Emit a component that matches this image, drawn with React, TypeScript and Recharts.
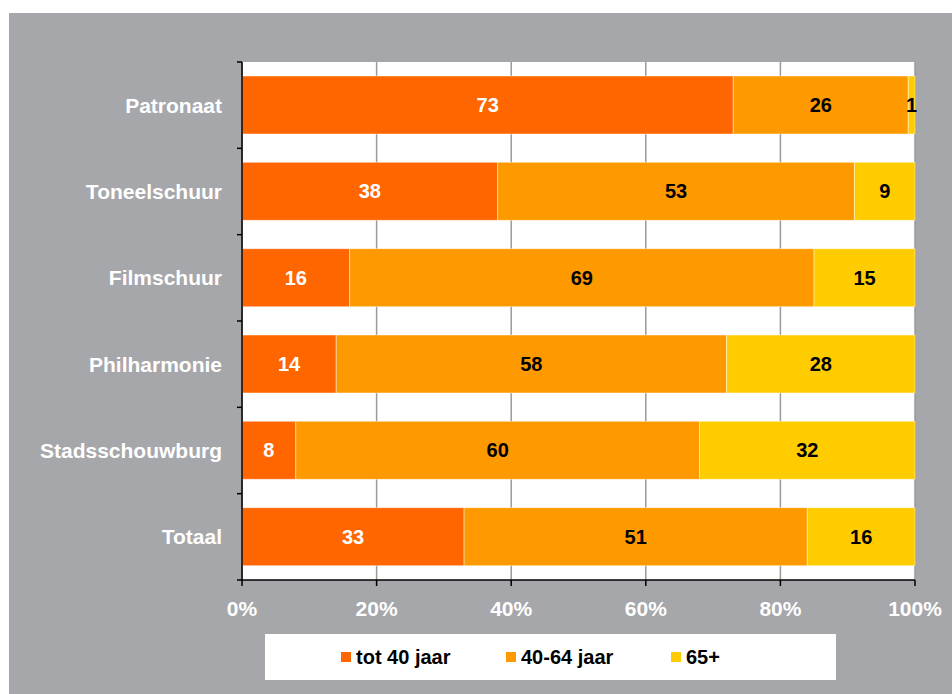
import {
  BarChart,
  Bar,
  XAxis,
  YAxis,
  CartesianGrid,
  Legend,
  LabelList,
} from "recharts";

// ---------------------------------------------------------------------------
// Data
// ---------------------------------------------------------------------------

const venues = [
  "Patronaat",
  "Toneelschuur",
  "Filmschuur",
  "Philharmonie",
  "Stadsschouwburg",
  "Totaal",
];

const under40 = [73, 38, 16, 14, 8, 33];
const age40to64 = [26, 53, 69, 58, 60, 51];
const over65 = [1, 9, 15, 28, 32, 16];

const percentTicks = [0, 20, 40, 60, 80, 100];

const seriesNames = ["tot 40 jaar", "40-64 jaar", "65+"];
const seriesColors = ["#ff6600", "#ff9900", "#ffcc00"];

const data = venues.map((name, i) => ({
  name,
  young: under40[i],
  middle: age40to64[i],
  old: over65[i],
}));

// ---------------------------------------------------------------------------
// Styling helpers
// ---------------------------------------------------------------------------

const FONT = "'Liberation Sans', Arial, sans-serif";
const PANEL_BG = "#a6a7ab";
const AXIS_X = 233; // right edge of the category axis inside the chart
const TOP = 49;
const PLOT_H = 518;
const BAND = PLOT_H / venues.length;

function CategoryTick({
  y,
  payload,
  index,
}: {
  x?: number;
  y?: number;
  payload?: { value: string };
  index?: number;
}) {
  const cy = y ?? 0;
  return (
    <g>
      <line
        x1={AXIS_X - 5}
        x2={AXIS_X}
        y1={cy - BAND / 2}
        y2={cy - BAND / 2}
        stroke="#000"
        strokeWidth={1.5}
      />
      {index === venues.length - 1 && (
        <line
          x1={AXIS_X - 5}
          x2={AXIS_X}
          y1={cy + BAND / 2}
          y2={cy + BAND / 2}
          stroke="#000"
          strokeWidth={1.5}
        />
      )}
      <text
        x={AXIS_X - 20}
        y={cy}
        dy="0.35em"
        textAnchor="end"
        fill="#fff"
        fontFamily={FONT}
        fontWeight="bold"
        fontSize={21}
      >
        {payload?.value}
      </text>
    </g>
  );
}

function LegendBox() {
  return (
    <div
      style={{
        width: 571,
        height: 46,
        background: "#fff",
        display: "flex",
        alignItems: "center",
        paddingLeft: 76,
        boxSizing: "border-box",
        fontFamily: FONT,
        fontWeight: "bold",
        fontSize: 20,
        color: "#000",
      }}
    >
      {seriesNames.map((n, i) => (
        <div
          key={n}
          style={{ display: "flex", alignItems: "center", width: 189 }}
        >
          <span
            style={{
              display: "inline-block",
              width: 10,
              height: 10,
              background: seriesColors[i],
              marginRight: 5,
            }}
          />
          <span>{n}</span>
        </div>
      ))}
    </div>
  );
}

// ---------------------------------------------------------------------------
// Component
// ---------------------------------------------------------------------------

export default function App() {
  const labelStyle = {
    fontFamily: FONT,
    fontWeight: "bold",
    fontSize: 20,
  };
  return (
    <div
      style={{
        position: "fixed",
        left: 9,
        top: 13,
        width: 943,
        height: 681,
        background: PANEL_BG,
      }}
    >
      <BarChart
        width={943}
        height={681}
        data={data}
        layout="vertical"
        margin={{ top: TOP, right: 37, bottom: 84, left: 0 }}
        barSize={58}
      >
        <CartesianGrid
          horizontal={false}
          stroke="#9a9a9a"
          strokeWidth={1.5}
          fill="#ffffff"
          fillOpacity={1}
        />
        <XAxis
          type="number"
          domain={[0, 100]}
          ticks={percentTicks}
          tickFormatter={(v: number) => `${v}%`}
          height={30}
          axisLine={{ stroke: "#000", strokeWidth: 1.5 }}
          tickLine={{ stroke: "#000", strokeWidth: 1.5 }}
          tickSize={6}
          tickMargin={15}
          tick={{ fill: "#fff", ...labelStyle, fontSize: 21 }}
          interval={0}
        />
        <YAxis
          type="category"
          dataKey="name"
          width={AXIS_X}
          axisLine={{ stroke: "#000", strokeWidth: 1.5 }}
          tickLine={false}
          tick={<CategoryTick />}
          interval={0}
        />
        <Legend
          verticalAlign="middle"
          align="center"
          layout="horizontal"
          wrapperStyle={{ left: 256, top: 621, width: 571, height: 46 }}
          content={() => <LegendBox />}
        />
        <Bar
          dataKey="young"
          name={seriesNames[0]}
          stackId="a"
          fill={seriesColors[0]}
          stroke="rgba(255,255,255,0.45)"
          strokeWidth={1}
          isAnimationActive={false}
        >
          <LabelList
            dataKey="young"
            position="center"
            fill="#fff"
            style={labelStyle}
          />
        </Bar>
        <Bar
          dataKey="middle"
          name={seriesNames[1]}
          stackId="a"
          fill={seriesColors[1]}
          stroke="rgba(255,255,255,0.45)"
          strokeWidth={1}
          isAnimationActive={false}
        >
          <LabelList
            dataKey="middle"
            position="center"
            fill="#000"
            style={labelStyle}
          />
        </Bar>
        <Bar
          dataKey="old"
          name={seriesNames[2]}
          stackId="a"
          fill={seriesColors[2]}
          stroke="rgba(255,255,255,0.45)"
          strokeWidth={1}
          isAnimationActive={false}
        >
          <LabelList
            dataKey="old"
            position="center"
            fill="#000"
            style={labelStyle}
          />
        </Bar>
      </BarChart>
    </div>
  );
}
